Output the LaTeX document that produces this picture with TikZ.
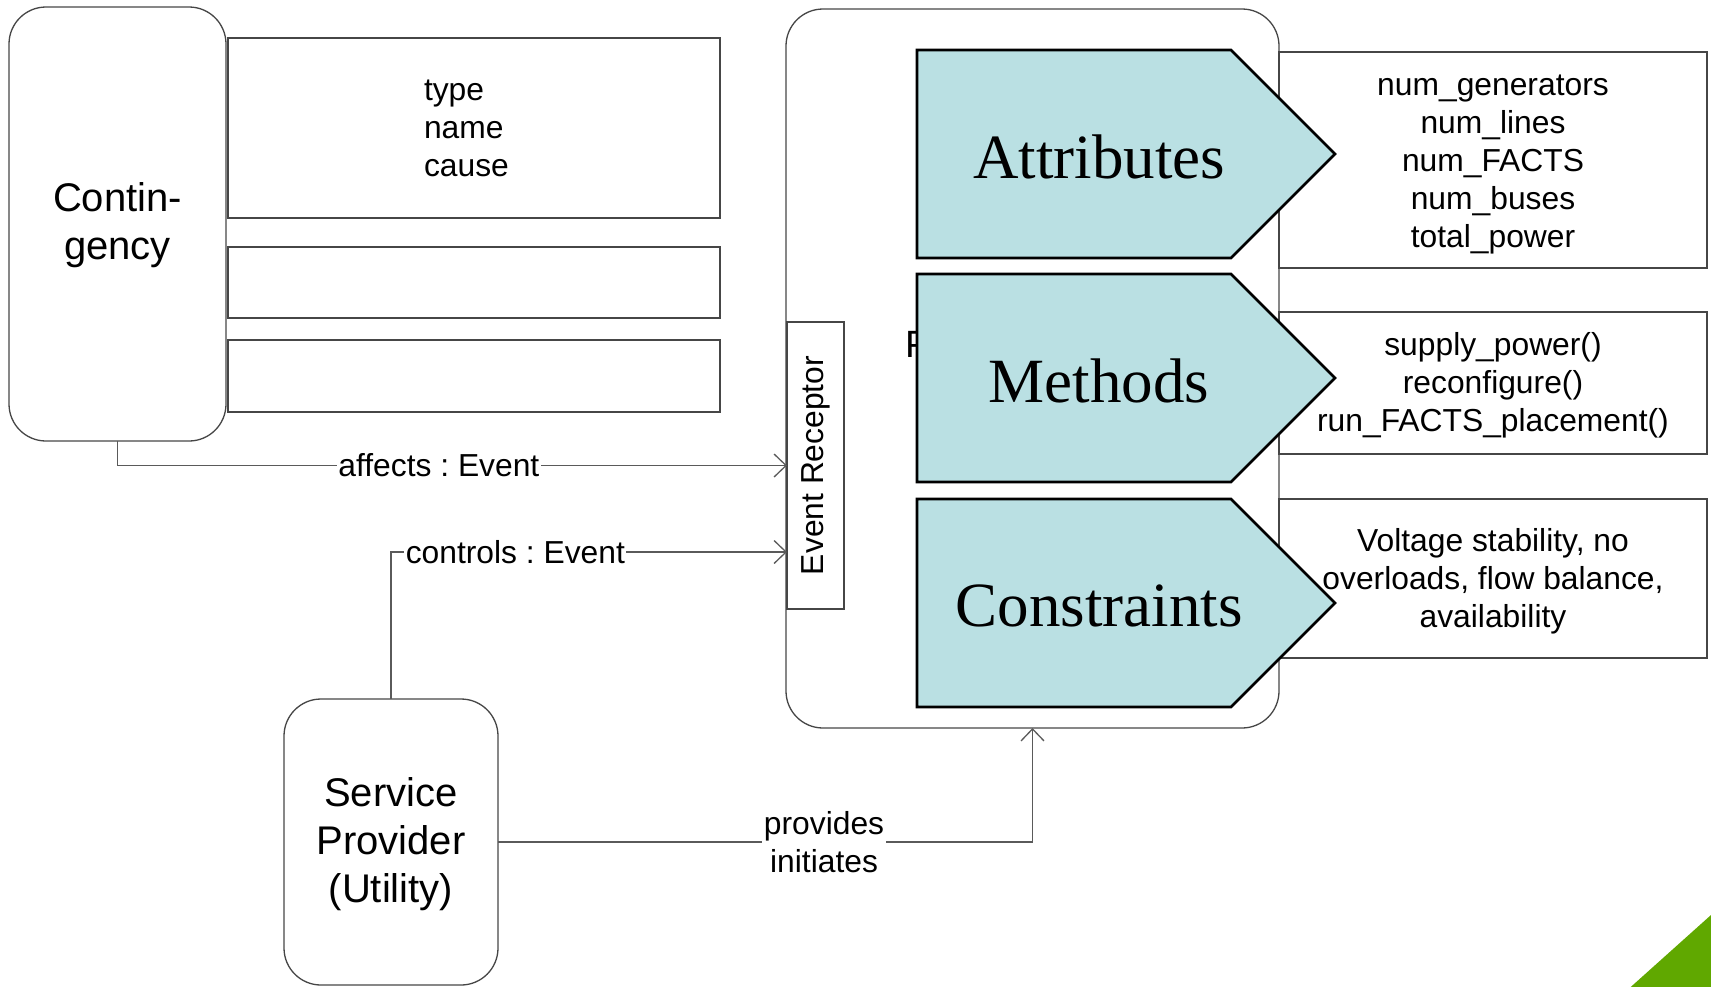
\documentclass[tikz,border=0pt]{standalone}
\usepackage{fontspec}
\setmainfont{Liberation Sans}
\newfontfamily\headserif{Liberation Serif}
\usetikzlibrary{arrows.meta}
\definecolor{boxline}{RGB}{70,70,70}
\definecolor{wireline}{RGB}{90,90,90}
\definecolor{pentfill}{RGB}{186,224,227}
\definecolor{cornergreen}{RGB}{96,168,0}
\frenchspacing

\begin{document}
\begin{tikzpicture}[x=1pt,y=-1pt,
  every node/.style={inner sep=0pt, outer sep=0pt},
  smalltext/.style={font=\fontsize{31.8}{38}\selectfont},
  bigtext/.style={font=\fontsize{40}{48}\selectfont},
  roundbox/.style={draw=boxline, line width=1.3pt, rounded corners=37pt, anchor=north west},
  plainbox/.style={draw=boxline, line width=1.3pt, anchor=north west},
  tab/.style={draw=black, line width=2.6pt, fill=pentfill, line join=miter},
  tablabel/.style={font=\headserif\fontsize{63}{75}\selectfont},
  wire/.style={draw=wireline, line width=1.3pt},
  opentip/.style={-{Straight Barb[length=12pt,width=23pt]}},
  wirelabel/.style={fill=white, inner sep=1.5pt, smalltext, align=center}
]
\useasboundingbox (0,0) rectangle (1711,986);

% Contingency compartments
\node[plainbox, minimum width=492, minimum height=180] (ca) at (228,38) {};
\node[plainbox, minimum width=492, minimum height=71] (cb) at (228,247) {};
\node[plainbox, minimum width=492, minimum height=72] (cc) at (228,340) {};
\node[smalltext, align=left, anchor=west] (catext) at (424,128) {type\\name\\cause};

% Contingency class
\node[roundbox, minimum width=217, minimum height=434] (cont) at (9,7) {};
\node[bigtext, align=center] (conttext) at ([yshift=-1.5pt]cont.center) {Contin-\\gency};

% Grid container
\node[roundbox, minimum width=493, minimum height=719] (main) at (786,9) {};
\node[font=\fontsize{38}{46}\selectfont, anchor=base west] (mainlabel) at (905,357) {P};

% Event receptor port
\node[plainbox, minimum width=57, minimum height=287] (er) at (787,322) {};
\node[smalltext, rotate=90] (erlabel) at (er.center) {Event Receptor};

% Detail boxes
\node[plainbox, minimum width=428, minimum height=216] (attrbox) at (1279,52) {};
\node[smalltext, align=center] (attrtext) at ([yshift=-4.5pt]attrbox.center)
  {num\_generators\\num\_lines\\num\_FACTS\\num\_buses\\total\_power};
\node[plainbox, minimum width=428, minimum height=142] (methbox) at (1279,312) {};
\node[smalltext, align=center] (methtext) at ([yshift=-2.5pt]methbox.center)
  {supply\_power()\\reconfigure()\\run\_FACTS\_placement()};
\node[plainbox, minimum width=428, minimum height=159] (consbox) at (1279,499) {};
\node[smalltext, align=center] (constext) at ([yshift=-2.5pt]consbox.center)
  {Voltage stability, no\\overloads, flow balance,\\availability};

% Section tabs
\foreach \nm/\ty/\lab in {attr/50/Attributes, meth/274/Methods, cons/499/Constraints}{
  \draw[tab] (917,\ty) -- (1231,\ty) -- (1335,\ty+104) -- (1231,\ty+208) -- (917,\ty+208) -- cycle;
  \node[tablabel] (\nm) at (1099,\ty+107) {\lab};
}

% Service provider
\node[roundbox, minimum width=214, minimum height=286] (sp) at (284,699) {};
\node[bigtext, align=center] (sptext) at ([yshift=-2pt]sp.center) {Service\\Provider\\(Utility)};

% Connectors
\draw[wire, opentip] (cont.south) |- (er.west)
  node[wirelabel, pos=0.74] (affects) {affects : Event};
\draw[wire, opentip] (sp.north) |- ([yshift=-86.5pt]er.west)
  node[wirelabel, pos=0.657] (controls) {controls : Event};
\draw[wire, opentip] (sp.east) -| (main.south)
  node[wirelabel, pos=0.305] (provides) {provides\\initiates};

% Corner accent
\fill[cornergreen] (1624,993) -- (1711,915) -- (1720,915) -- (1720,993) -- cycle;
\end{tikzpicture}
\end{document}
